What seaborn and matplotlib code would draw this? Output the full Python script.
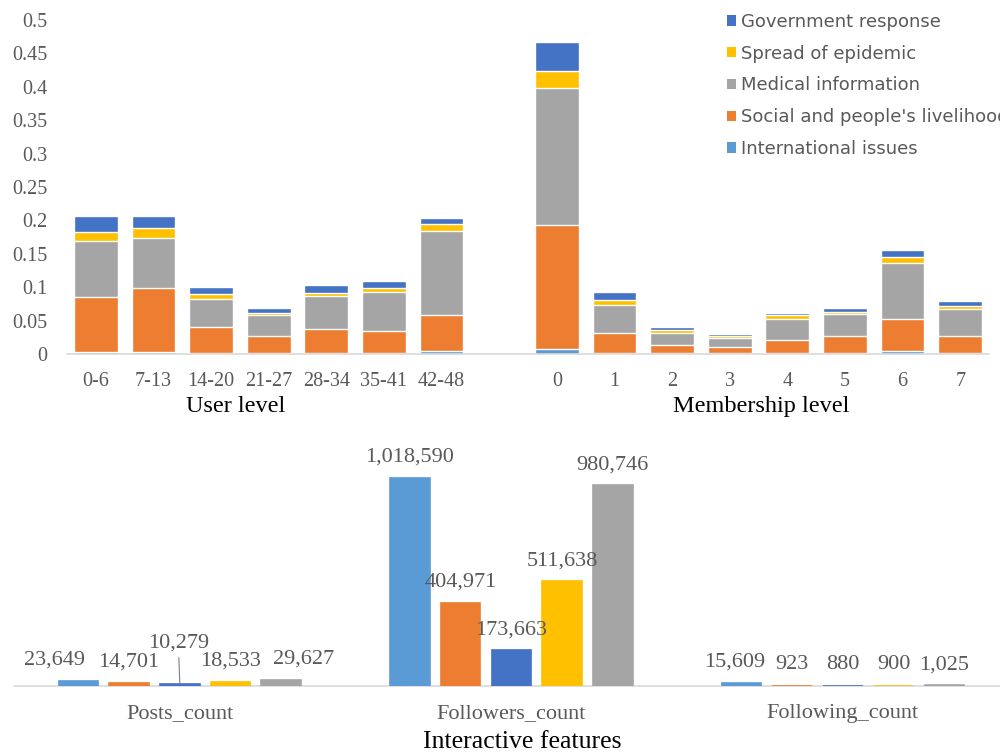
import numpy as np
import pandas as pd
import matplotlib
matplotlib.use("Agg")
import matplotlib.pyplot as plt
from matplotlib.patches import Patch
import matplotlib.transforms as mtransforms
import seaborn as sns

# ---------------- data ----------------
user_levels = ["0-6", "7-13", "14-20", "21-27", "28-34", "35-41", "42-48"]
member_levels = ["0", "1", "2", "3", "4", "5", "6", "7"]

topics = ["International issues", "Social and people's livelihood",
          "Medical information", "Spread of epidemic", "Government response"]

intl_user = [0.003, 0.003, 0.001, 0.001, 0.002, 0.001, 0.005]
social_user = [0.082, 0.096, 0.039, 0.026, 0.035, 0.034, 0.053]
medical_user = [0.084, 0.075, 0.042, 0.031, 0.050, 0.058, 0.126]
spread_user = [0.014, 0.014, 0.008, 0.004, 0.005, 0.0054, 0.011]
gov_user = [0.023, 0.018, 0.011, 0.0066, 0.011, 0.0105, 0.008]

intl_mem = [0.008, 0.001, 0.001, 0.001, 0.001, 0.001, 0.005, 0.002]
social_mem = [0.1845, 0.031, 0.0125, 0.010, 0.0204, 0.0254, 0.0474, 0.0244]
medical_mem = [0.2055, 0.0415, 0.018, 0.013, 0.0314, 0.0335, 0.0834, 0.0414]
spread_mem = [0.025, 0.008, 0.004, 0.003, 0.0056, 0.0034, 0.009, 0.004]
gov_mem = [0.044, 0.011, 0.005, 0.003, 0.003, 0.0056, 0.0114, 0.0075]

features = ["Posts_count", "Followers_count", "Following_count"]
feature_series = ["International issues", "Social and people's livelihood",
                  "Government response", "Spread of epidemic", "Medical information"]
intl_feat = [23649, 1018590, 15609]
social_feat = [14701, 404971, 923]
gov_feat = [10279, 173663, 880]
spread_feat = [18533, 511638, 900]
medical_feat = [29627, 980746, 1025]

colors = {
    "International issues": "#5B9BD5",
    "Social and people's livelihood": "#ED7D31",
    "Medical information": "#A5A5A5",
    "Spread of epidemic": "#FFC000",
    "Government response": "#4472C4",
}

# ---------------- style ----------------
sns.set_theme(style="white")
plt.rcParams["font.family"] = ["Liberation Serif", "DejaVu Serif"]
TICK_GRAY = "#595959"
AXIS_GRAY = "#D9D9D9"

fig = plt.figure(figsize=(10, 7.56), dpi=100)

# ---------------- top stacked chart ----------------
ax1 = fig.add_axes([0.067, 1 - 354 / 756, 0.922, (354 - 20) / 756])

levels = user_levels + member_levels
top_vals = {
    "International issues": intl_user + intl_mem,
    "Social and people's livelihood": social_user + social_mem,
    "Medical information": medical_user + medical_mem,
    "Spread of epidemic": spread_user + spread_mem,
    "Government response": gov_user + gov_mem,
}
rows = []
for i, lv in enumerate(levels):
    cum = 0.0
    for t in topics:
        cum += top_vals[t][i]
        rows.append({"level": lv, "topic": t, "cum": cum})
df_top = pd.DataFrame(rows)
order = user_levels + [" "] + member_levels

for t in topics[::-1]:
    sns.barplot(data=df_top[df_top["topic"] == t], x="level", y="cum",
                order=order, color=colors[t], width=0.76, errorbar=None,
                saturation=1, ax=ax1)

ax1.set_xlim(-0.5, 15.5)
ax1.set_ylim(0, 0.5)
ax1.set_yticks(np.arange(0, 0.501, 0.05))
ax1.yaxis.set_major_formatter(plt.FuncFormatter(lambda v, p: f"{round(v, 2):g}"))
ax1.set_xlabel("")
ax1.set_ylabel("")
for s in ["top", "right", "left"]:
    ax1.spines[s].set_visible(False)
ax1.spines["bottom"].set_color(AXIS_GRAY)
ax1.spines["bottom"].set_linewidth(1.2)
ax1.tick_params(axis="both", length=0, labelsize=14.5, labelcolor=TICK_GRAY)
ax1.tick_params(axis="y", pad=14)
ax1.tick_params(axis="x", pad=13)

trans1 = mtransforms.blended_transform_factory(ax1.transData, ax1.transAxes)
ax1.text(2.42, -0.156, "User level", transform=trans1, ha="center", va="center",
         fontsize=17.5, color="black")
ax1.text(11.55, -0.156, "Membership level", transform=trans1, ha="center", va="center",
         fontsize=17.5, color="black")

legend_order = ["Government response", "Spread of epidemic", "Medical information",
                "Social and people's livelihood", "International issues"]
handles = [Patch(facecolor=colors[t], edgecolor="none", label=t) for t in legend_order]
fig.legend(handles=handles, loc="upper left", bbox_to_anchor=(0.727, 1 - 13 / 756),
           frameon=False, prop={"family": "DejaVu Sans", "size": 13},
           labelcolor=TICK_GRAY, handlelength=0.5, handleheight=0.5,
           handletextpad=0.25, labelspacing=0.76, borderpad=0, borderaxespad=0)

# ---------------- bottom grouped chart ----------------
ax2 = fig.add_axes([0.014, 1 - 685.7 / 756, 0.986, 245 / 756])

feat_vals = {
    "International issues": intl_feat,
    "Social and people's livelihood": social_feat,
    "Government response": gov_feat,
    "Spread of epidemic": spread_feat,
    "Medical information": medical_feat,
}
rows = []
for s in feature_series:
    for f, v in zip(features, feat_vals[s]):
        rows.append({"feature": f, "series": s, "value": v})
df_bot = pd.DataFrame(rows)

sns.barplot(data=df_bot, x="feature", y="value", hue="series", order=features,
            hue_order=feature_series, palette=[colors[s] for s in feature_series],
            width=0.765, gap=0.22, errorbar=None, saturation=1, legend=False, ax=ax2)

# thin outline in the bar colour so the tiny bars stay visible above the axis line
for p in ax2.patches:
    p.set_edgecolor(p.get_facecolor())
    p.set_linewidth(1.2)
    p.set_zorder(3)

ax2.set_xlim(-0.5, 2.474)
ax2.set_ylim(0, 1.2e6)
ax2.set_yticks([])
ax2.set_xlabel("")
ax2.set_ylabel("")
for s in ["top", "right", "left"]:
    ax2.spines[s].set_visible(False)
ax2.spines["bottom"].set_color(AXIS_GRAY)
ax2.spines["bottom"].set_linewidth(1.2)
ax2.tick_params(axis="x", length=0, labelsize=16, labelcolor=TICK_GRAY, pad=13)

# horizontal nudges (points) that keep the crowded labels apart
label_dx = {("International issues", 0): -17, ("Medical information", 0): 16,
            ("International issues", 2): -5}

for ci, cont in enumerate(ax2.containers):
    series = feature_series[ci]
    labels = []
    for fi, bar in enumerate(cont):
        val = feat_vals[series][fi]
        if series == "Government response" and fi == 0:
            labels.append("")
            cx = bar.get_x() + bar.get_width() / 2
            ax2.annotate(f"{val:,}", xy=(cx, bar.get_height()), xytext=(-1, 22),
                         textcoords="offset points", ha="center", va="bottom",
                         fontsize=16, color=TICK_GRAY,
                         arrowprops=dict(arrowstyle="-", color="#7F7F7F", lw=0.8,
                                         shrinkA=1, shrinkB=0))
        else:
            labels.append(f"{val:,}")
    anns = ax2.bar_label(cont, labels=labels, padding=8, fontsize=16, color=TICK_GRAY)
    for fi, ann in enumerate(anns):
        dx = label_dx.get((series, fi), 0)
        if dx:
            ann.xyann = (dx, 8)

ax2.text(0.515, -0.23, "Interactive features", transform=ax2.transAxes,
         ha="center", va="center", fontsize=18.5, color="black")

fig.savefig("out.png", dpi=100)
